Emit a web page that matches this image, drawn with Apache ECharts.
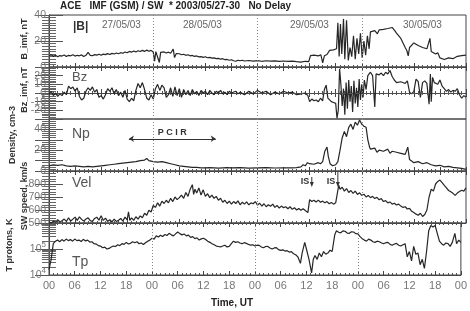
<!DOCTYPE html>
<html>
<head>
<meta charset="utf-8">
<script src="https://cdn.jsdelivr.net/npm/echarts@6/dist/echarts.min.js"></script>
<style>
html, body { margin: 0; padding: 0; background: #fff; }
#main { width: 470px; height: 311px; }
</style>
</head>
<body>
<div id="main"></div>
<script>
// hours since 2003/05/27 00 UT
var dayBounds = [24, 48, 72];
var shockHours = [60.5, 66.5];
var pcirSpan = [18.4, 38.4];

var bTotal = [[0,8.5],[0.5,9.4],[1,8.2],[1.5,9],[2,7.8],[2.5,8.8],[3,8.4],[3.5,9.2],[4,8],[4.5,9],[5,8.6],[5.5,9.4],[6,8.4],[6.5,9],[7,8.6],[7.5,9.3],[8,8.1],[8.5,9],[9,11.2],[9.5,9],[10,8.7],[10.5,9.5],[11,9.1],[11.5,9.8],[12,9],[12.5,9.9],[13,9.5],[13.5,10.3],[14,9.6],[14.5,10.5],[15,10],[15.5,10.8],[16,10.2],[16.5,11],[17,10.6],[17.5,11.5],[18,11],[18.5,12],[19,11.4],[19.5,12.3],[20,11.6],[20.5,12.5],[21,11.9],[21.5,12.8],[22,12],[22.5,13],[23,12.1],[23.5,12.8],[24,11.5],[24.3,4.5],[24.6,11.8],[25,10.8],[25.4,3.5],[25.7,11.2],[26,10.6],[26.5,11.6],[27,10.8],[27.5,11.4],[28,10.6],[28.6,13.8],[28.9,7.2],[29.3,10.4],[29.7,9.6],[30,10.2],[30.5,9.4],[31,9.8],[31.5,9],[32,9.4],[32.5,8.6],[33,8.9],[33.5,8.2],[34,8.5],[34.5,7.8],[35,8],[35.5,7.4],[36,7.9],[36.5,7.1],[37,7.4],[37.5,6.8],[38,7],[38.5,6.4],[39,6.6],[39.5,6],[40,6.4],[40.5,5.6],[41,5.8],[41.5,5.2],[42,5.6],[42.5,4.8],[43,4.4],[43.5,5.2],[44,4.8],[44.5,5.2],[45,4.6],[46,5],[47,4.5],[48,4.9],[49,4.4],[50,4.8],[51,4.5],[52,4.7],[53,4.3],[54,4.6],[55,4.3],[56,4.5],[57,4.1],[58,3.8],[59,4.4],[59.8,4.2],[60.2,8.8],[61,9.2],[62,8.6],[62.6,9.4],[63,3.2],[63.4,8.6],[64,9.6],[64.6,12.8],[65.5,13.2],[66.2,14],[66.5,34],[66.8,8],[67.1,33],[67.4,10],[67.8,37],[68.1,6],[68.5,36],[68.9,5],[69.3,15],[69.7,8],[70.1,24],[70.5,6],[70.9,22],[71.3,10],[71.7,26],[72.1,7],[72.5,20],[72.9,9],[73.3,24],[73.7,14],[74,27],[75,28],[75.6,25.5],[76,28.5],[77,29],[78,29.6],[79,30.4],[79.6,28],[80,26],[81,22],[82,15],[82.4,12.5],[82.7,8.5],[83,15],[84,18.5],[85,16.5],[86,15],[87,14],[87.7,22],[88,12],[89,10],[89.5,11],[90,7],[91,5.8],[92,7],[93,6.4],[94,8.2],[95,8.8],[96,9.2]];

var bz = [[0,-1],[0.5,2],[1,-3],[1.5,0],[2,-4],[2.5,-1],[3,-3],[3.5,1],[4,-2],[4.5,8],[5,5],[5.5,7],[6,2],[6.5,6],[7,-4],[7.5,-8],[8,-6],[8.5,2],[9,6],[9.5,3],[10,7],[10.5,1],[11,4],[11.5,-5],[12,-3],[12.5,-7],[13,-2],[13.5,5],[14,2],[14.5,6],[15,-1],[15.5,4],[16,-3],[16.5,1],[17,-5],[17.5,3],[18,-7],[18.5,-10],[19,-6],[19.5,-9],[20,3],[20.5,11],[21,6],[21.5,12],[22,4],[22.5,-6],[23,-8],[23.5,-2],[24,-7],[24.5,5],[25,10],[25.5,3],[26,9],[26.5,6],[27,-5],[27.5,-2],[28,6],[28.5,-4],[29,7],[29.5,-3],[30,5],[30.5,-5],[31,4],[31.5,-2],[32,3],[32.5,-3],[33,4],[33.5,-1],[34,2],[34.5,-3],[35,3],[35.5,0],[36,2],[36.5,-2],[37,3],[37.5,0],[38,-2],[38.5,2],[39,0],[39.5,3],[40,-1],[40.5,1],[41,-2],[41.5,2],[42,0],[43,2],[43.5,-1],[44,1],[45,-2],[46,2],[47,-1],[48,3],[49,0],[50,2],[51,-2],[52,1],[53,-1],[54,2],[55,0],[56,1],[57,-2],[58,-1],[59,0],[59.6,-3],[60,-10],[60.5,-7],[61,-9],[61.5,-8],[62,-10],[62.5,-6],[63,-9],[63.4,4],[63.8,9],[64.2,-6],[64.6,-8],[65,-10],[65.5,-11],[66,-12],[66.3,-29],[66.6,-20],[66.9,28],[67.2,10],[67.5,-15],[67.8,5],[68.1,-25],[68.4,12],[68.7,-18],[69,15],[69.3,-10],[69.6,8],[69.9,-22],[70.2,14],[70.5,-12],[70.8,6],[71.1,-16],[71.4,16],[71.7,-8],[72,10],[72.3,-5],[72.6,15],[73,4],[73.4,20],[73.8,18],[74,24],[74.5,20],[75,-16],[75.3,22],[76,21],[76.5,23],[77,20],[77.5,24],[78,22],[78.5,26],[79,19],[79.5,15],[80,12],[81,13],[82,11],[82.5,14],[83,1],[83.5,-1],[84,2],[84.5,16],[85,13],[85.5,-5],[86,12],[86.5,14],[87,11],[87.5,-13],[87.8,22],[88,-10],[88.3,18],[88.7,12],[89,14],[89.5,10],[90,15],[90.5,8],[91,5],[91.5,2],[92,4],[92.5,1],[93,3],[93.5,2],[94,5],[94.5,-2],[95,-6],[95.5,-3],[96,-5]];

var density = [[0,5],[1,6],[2,5.5],[3,6],[4,5],[5,4.5],[6,5],[7,4.5],[8,4],[9,4.5],[10,4],[11,4.5],[12,5],[13,5.5],[14,6],[15,6.5],[16,7],[17,7.5],[18,8],[19,8.5],[20,9],[21,10],[22,10.5],[22.5,12],[23,10],[24,9],[25,8.5],[26,9],[27,8],[28,7],[29,6],[30,5],[31,4.5],[32,4],[33,3.5],[34,3.5],[35,3],[36,3],[37,3.2],[38,3],[39,2.8],[40,3],[41,3.2],[42,3],[44,3.2],[46,2.8],[48,3],[50,3.2],[52,2.9],[54,3.1],[56,3],[57,3.2],[58,4],[58.5,6],[59,5],[59.5,8],[60,7],[61,6.5],[62,8],[62.5,7],[63,9],[63.5,19],[64,23],[64.3,14],[64.7,7],[65.3,5],[66,6],[66.5,9],[67,20],[67.5,32],[68,38],[68.5,33],[69,42],[69.5,45],[70,40],[70.5,47],[71,44],[71.5,49],[72,45],[72.5,43],[73,42],[73.4,30],[73.8,23],[74,21],[75,22],[75.5,18],[76,20],[77,19],[78,21],[78.5,17],[79,19],[80,18],[81,17],[82,16],[82.6,23],[83,11],[84,8],[85,9],[86,7],[87,8],[88,6],[89,5],[90,5.5],[91,4],[92,4.5],[93,3.5],[94,3],[95,2.5],[96,1.5]];

var speed = [[0,510],[0.5,498],[1,515],[1.5,505],[2,525],[2.5,508],[3,518],[3.5,530],[4,512],[4.5,540],[5,515],[5.5,530],[6,545],[6.5,520],[7,548],[7.5,528],[8,515],[8.5,530],[9,540],[9.5,518],[10,512],[10.5,535],[11,545],[11.5,522],[12,555],[12.5,520],[13,538],[13.5,512],[14,525],[14.5,508],[15,530],[15.5,512],[16,520],[16.5,535],[17,515],[17.5,545],[18,525],[18.3,585],[18.6,520],[19,540],[19.5,520],[20,548],[20.5,530],[21,555],[21.5,540],[22,575],[22.5,560],[23,598],[23.5,585],[24,635],[24.5,620],[25,655],[25.5,630],[26,668],[26.5,650],[27,675],[27.5,655],[28,690],[28.5,665],[29,700],[29.5,680],[30,695],[30.5,715],[31,690],[31.5,735],[32,705],[32.5,760],[33,795],[33.3,720],[33.6,760],[34,730],[34.5,770],[35,715],[35.5,755],[36,705],[36.5,725],[37,695],[37.5,715],[38,690],[38.5,705],[39,675],[39.5,690],[40,660],[40.5,675],[41,650],[41.5,668],[42,645],[42.5,665],[43,650],[43.5,670],[44,640],[44.5,660],[45,645],[45.5,662],[46,640],[46.5,655],[47,648],[47.5,665],[48,638],[48.5,652],[49,630],[49.5,648],[50,625],[50.5,640],[51,628],[51.5,645],[52,620],[52.5,635],[53,615],[53.5,630],[54,618],[54.5,625],[55,610],[55.5,625],[56,605],[56.5,618],[57,600],[57.5,612],[58,598],[58.5,610],[59,596],[59.6,580],[60,680],[60.5,665],[61,675],[61.5,662],[62,676],[62.5,660],[63,668],[63.5,655],[64,665],[64.5,648],[65,658],[65.5,645],[66,655],[66.4,645],[66.7,790],[67,760],[67.5,775],[68,745],[68.5,765],[69,735],[69.5,750],[70,728],[70.5,745],[71,720],[71.5,732],[72,712],[72.5,722],[73,700],[73.5,712],[74,695],[74.5,705],[75,688],[75.5,698],[76,678],[76.5,688],[77,665],[77.5,672],[78,655],[78.5,662],[79,645],[79.5,652],[80,638],[80.5,645],[81,630],[81.5,620],[82,625],[82.5,608],[83,612],[83.5,590],[84,580],[84.5,568],[85,560],[85.5,575],[86,550],[86.5,565],[87,600],[87.5,700],[88,760],[88.5,745],[89,800],[89.5,820],[90,830],[90.5,810],[91,790],[91.5,770],[92,750],[92.5,740],[93,728],[93.5,712],[94,730],[94.5,742],[95,752],[95.5,745],[96,770]];

var tProton = [[0,1.6e4],[0.5,4e4],[1,1.6e5],[1.5,2e5],[2,2.2e5],[2.5,1.9e5],[3,2.3e5],[3.5,2e5],[4,2.4e5],[4.5,2.1e5],[5,2.3e5],[5.5,2e5],[6,2.4e5],[6.5,2.1e5],[7,2.2e5],[7.5,1.95e5],[8,2.35e5],[8.5,2.05e5],[9,2.2e5],[9.5,1.85e5],[10,1.9e5],[10.5,1.6e5],[11,1.55e5],[11.5,1.35e5],[12,1.3e5],[12.5,1.12e5],[13,1.18e5],[13.5,1e5],[14,1.05e5],[14.5,1.2e5],[15,1.3e5],[15.5,1.25e5],[16,1.45e5],[16.5,1.35e5],[17,1.6e5],[17.5,1.5e5],[18,1.8e5],[18.5,1.55e5],[19,1.65e5],[19.5,1.9e5],[20,1.75e5],[20.5,1.9e5],[21,1.6e5],[21.5,1.7e5],[22,1.5e5],[22.5,1.75e5],[23,2e5],[23.5,2.2e5],[24,2.6e5],[24.5,2.4e5],[25,3.2e5],[25.5,2.9e5],[26,3.4e5],[26.5,3e5],[27,3.6e5],[27.5,3.3e5],[28,4e5],[28.5,3.5e5],[29,3.2e5],[29.5,3.8e5],[30,4.5e5],[30.5,3.9e5],[31,3.5e5],[31.5,3.8e5],[32,3.2e5],[32.5,3.4e5],[33,2.8e5],[33.5,3e5],[34,2.5e5],[34.5,2.7e5],[35,2.2e5],[35.5,2.45e5],[36,2.6e5],[36.5,2.3e5],[37,2e5],[37.5,1.8e5],[38,1.6e5],[38.5,1.45e5],[39,1.3e5],[39.5,1.25e5],[40,1.2e5],[40.5,1.3e5],[41,1.4e5],[41.5,1.2e5],[42,1.26e5],[42.5,1.6e5],[43,2e5],[43.5,1.8e5],[44,1.9e5],[44.5,1.7e5],[45,1.6e5],[45.5,1.75e5],[46,1.65e5],[46.5,1.5e5],[47,1.4e5],[47.5,1.45e5],[48,1.3e5],[48.5,1.4e5],[49,1.38e5],[49.5,1.2e5],[50,1.12e5],[50.5,1.25e5],[51,1.26e5],[51.5,1.1e5],[52,1e5],[52.5,1.1e5],[53,1.12e5],[53.5,9.5e4],[54,8.9e4],[54.5,9.3e4],[55,8.3e4],[55.5,8.6e4],[56,7.6e4],[56.5,7.9e4],[57,6.6e4],[57.5,6e4],[58,5e4],[58.6,2.8e4],[59,7e4],[59.6,1.8e5],[60,1e5],[60.6,4e4],[61.2,1.2e4],[61.6,4e4],[62,5.6e4],[62.5,4e4],[63,7e4],[63.5,5e4],[64,8e4],[64.5,6.3e4],[65,7e4],[65.5,9e4],[66,8e4],[66.6,3.5e5],[67,5e5],[67.5,4.4e5],[68,4.2e5],[68.5,5e5],[69,4.8e5],[69.5,4.1e5],[70,4e5],[70.5,4.6e5],[71,4.5e5],[71.5,3.9e5],[72,3.8e5],[72.5,3e5],[73,2.5e5],[73.5,2.2e5],[74,2e5],[74.5,2.4e5],[75,2.2e5],[75.5,1.9e5],[76,1.8e5],[76.5,2e5],[77,1.9e5],[77.5,1.7e5],[78,1.6e5],[78.5,1.75e5],[79,1.8e5],[79.5,1.5e5],[80,1.4e5],[80.5,1.55e5],[81,1.65e5],[81.5,1.4e5],[82,1.3e5],[82.5,1.45e5],[83,1.6e5],[83.5,5e4],[84,8e4],[84.5,3.5e4],[85,1.26e5],[85.5,6.3e4],[86,7e4],[86.5,2.5e4],[87,4e4],[87.5,1.8e4],[88,8e4],[88.5,5e5],[89,8e5],[89.5,7e5],[90,8e5],[90.5,4e5],[91,2e5],[91.5,1.6e5],[92,1.4e5],[92.5,1.7e5],[93,1.6e5],[93.5,1.26e5],[94,1.8e5],[94.6,4e5],[95,1.6e5],[95.5,2.2e5],[96,1.8e5]];

var myChart = echarts.init(document.getElementById('main'));

var font = 'Liberation Sans';
var gray = '#777';
var panelTop = [15, 67, 119, 171, 223];
var panelH = 52;

var yCfg = [
    { min: 0, max: 40, interval: 20, minor: 10, fmt: function (v) { return v; } },
    { min: -30, max: 30, interval: 10, minor: 5, fmt: function (v) { return Math.abs(v) === 30 ? '' : v; } },
    { min: 0, max: 50, interval: 10, minor: 5, fmt: function (v) { return v % 20 === 0 ? v : ''; } },
    { min: 500, max: 900, interval: 100, minor: 5, fmt: function (v) { return v === 900 ? '' : v; } },
    { type: 'log', min: 1e4, max: 1e6, minor: 9, fmt: function (v) { return v >= 1e6 ? '' : '10{s|' + Math.round(Math.log10(v)) + '}'; } }
];

var grids = [], xAxes = [], yAxes = [];
panelTop.forEach(function (top, i) {
    grids.push({ left: 49, right: 4, top: top, height: panelH, show: true, borderColor: '#444', borderWidth: 1, backgroundColor: 'transparent' });
    ['bottom', 'top'].forEach(function (pos) {
        xAxes.push({
            gridIndex: i, type: 'value', position: pos, min: 0, max: 96, interval: 6,
            axisLine: { show: true, lineStyle: { color: '#444' } },
            axisTick: { show: true, inside: true, length: 4, lineStyle: { color: '#444' } },
            minorTick: { show: true, splitNumber: 6, length: 2, lineStyle: { color: '#555' } },
            splitLine: { show: false },
            axisLabel: {
                show: i === 4 && pos === 'bottom', color: gray, fontFamily: font, fontSize: 11, margin: 5,
                formatter: function (v) { var h = v % 24; return (h < 10 ? '0' : '') + h; }
            }
        });
    });
    var c = yCfg[i];
    ['left', 'right'].forEach(function (pos) {
        yAxes.push({
            gridIndex: i, type: c.type || 'value', position: pos, min: c.min, max: c.max, interval: c.interval,
            logBase: 10,
            axisLine: { show: true, lineStyle: { color: '#444' } },
            axisTick: { show: true, inside: true, length: 14, lineStyle: { color: '#555' } },
            minorTick: { show: true, splitNumber: c.minor, length: 7, lineStyle: { color: '#666' } },
            splitLine: { show: false },
            axisLabel: {
                show: pos === 'left', color: gray, fontFamily: font, fontSize: 10.5, margin: 3,
                formatter: c.fmt,
                rich: { s: { fontSize: 8, color: gray, fontFamily: font, verticalAlign: 'bottom', padding: [0, 0, 9, 0] } }
            }
        });
    });
});

function dayMarks(extra) {
    return {
        silent: true, symbol: 'none', animation: false,
        label: { show: false },
        lineStyle: { color: '#888', type: [1, 2], width: 1 },
        data: dayBounds.map(function (h) { return { xAxis: h }; }).concat(extra || [])
    };
}

function lineSeries(data, i, mark) {
    return {
        type: 'line', data: data, xAxisIndex: 2 * i, yAxisIndex: 2 * i,
        showSymbol: false, symbol: 'none', animation: false,
        lineStyle: { color: '#262626', width: 1.2 },
        markLine: mark
    };
}

var option = {
    backgroundColor: '#fff',
    animation: false,
    grid: grids,
    xAxis: xAxes,
    yAxis: yAxes,
    series: [
        lineSeries(bTotal, 0, dayMarks()),
        lineSeries(bz, 1, dayMarks([[
            { coord: [48, 0], lineStyle: { color: '#555', type: [4, 3], width: 1 } },
            { coord: [96, 0] }
        ]])),
        lineSeries(density, 2, dayMarks([[
            { coord: [pcirSpan[0], 31], symbol: 'arrow', symbolSize: 5,
              lineStyle: { color: '#333', type: 'solid', width: 1 },
              label: { show: true, formatter: 'P C I R', position: 'insideMiddleTop', distance: 2,
                       fontFamily: font, fontWeight: 'bold', fontSize: 9, color: '#333' } },
            { coord: [pcirSpan[1], 31], symbol: 'arrow', symbolSize: 5 }
        ]])),
        lineSeries(speed, 3, dayMarks()),
        lineSeries(tProton, 4, dayMarks())
    ],
    graphic: [
        { type: 'text', left: 60, top: 1, style: { text: 'ACE   IMF (GSM) / SW  * 2003/05/27-30   No Delay', font: 'bold 10px "Liberation Sans"', fill: '#222' } },
        { type: 'text', left: 73, top: 21, style: { text: '|B|', font: 'bold 12px "Liberation Sans"', fill: '#333' } },
        { type: 'text', left: 102, top: 20, style: { text: '27/05/03', font: '10px "Liberation Sans"', fill: '#666' } },
        { type: 'text', left: 183, top: 20, style: { text: '28/05/03', font: '10px "Liberation Sans"', fill: '#666' } },
        { type: 'text', left: 290, top: 20, style: { text: '29/05/03', font: '10px "Liberation Sans"', fill: '#666' } },
        { type: 'text', left: 403, top: 20, style: { text: '30/05/03', font: '10px "Liberation Sans"', fill: '#666' } },
        { type: 'text', left: 72, top: 71, style: { text: 'Bz', font: '13px "Liberation Sans"', fill: '#555' } },
        { type: 'text', left: 72, top: 127, style: { text: 'Np', font: '14px "Liberation Sans"', fill: '#555' } },
        { type: 'text', left: 72, top: 176, style: { text: 'Vel', font: '14px "Liberation Sans"', fill: '#555' } },
        { type: 'text', left: 72, top: 255, style: { text: 'Tp', font: '14px "Liberation Sans"', fill: '#555' } },
        { type: 'text', x: 25, y: 39, rotation: Math.PI / 2, style: { text: 'B_imf, nT', font: 'bold 9px "Liberation Sans"', fill: '#333', align: 'center', verticalAlign: 'middle' } },
        { type: 'text', x: 25, y: 90, rotation: Math.PI / 2, style: { text: 'Bz_imf, nT', font: 'bold 9px "Liberation Sans"', fill: '#333', align: 'center', verticalAlign: 'middle' } },
        { type: 'text', x: 13, y: 135, rotation: Math.PI / 2, style: { text: 'Density, cm-3', font: 'bold 9px "Liberation Sans"', fill: '#333', align: 'center', verticalAlign: 'middle' } },
        { type: 'text', x: 25, y: 196, rotation: Math.PI / 2, style: { text: 'SW speed, km/s', font: 'bold 9px "Liberation Sans"', fill: '#333', align: 'center', verticalAlign: 'middle' } },
        { type: 'text', x: 10, y: 245, rotation: Math.PI / 2, style: { text: 'T protons, K', font: 'bold 9px "Liberation Sans"', fill: '#333', align: 'center', verticalAlign: 'middle' } },
        { type: 'text', x: 232, y: 303, style: { text: 'Time, UT', font: 'bold 10px "Liberation Sans"', fill: '#222', align: 'center', verticalAlign: 'middle' } }
    ]
};

myChart.setOption(option);

// shock markers placed from their times
var isMarks = shockHours.map(function (h, k) {
    var px = myChart.convertToPixel({ xAxisIndex: 6 }, h);
    var top = k === 0 ? 177 : 172;
    return {
        type: 'group', children: [
            { type: 'text', x: px - 11, y: 182, style: { text: 'IS', font: 'bold 9px "Liberation Sans"', fill: '#333', verticalAlign: 'middle' } },
            { type: 'line', shape: { x1: px, y1: top, x2: px, y2: 184 }, style: { stroke: '#333', lineWidth: 1 } },
            { type: 'polygon', shape: { points: [[px - 2, 182], [px + 2, 182], [px, 187]] }, style: { fill: '#333' } }
        ]
    };
});
myChart.setOption({ graphic: option.graphic.concat(isMarks) });
</script>
</body>
</html>
